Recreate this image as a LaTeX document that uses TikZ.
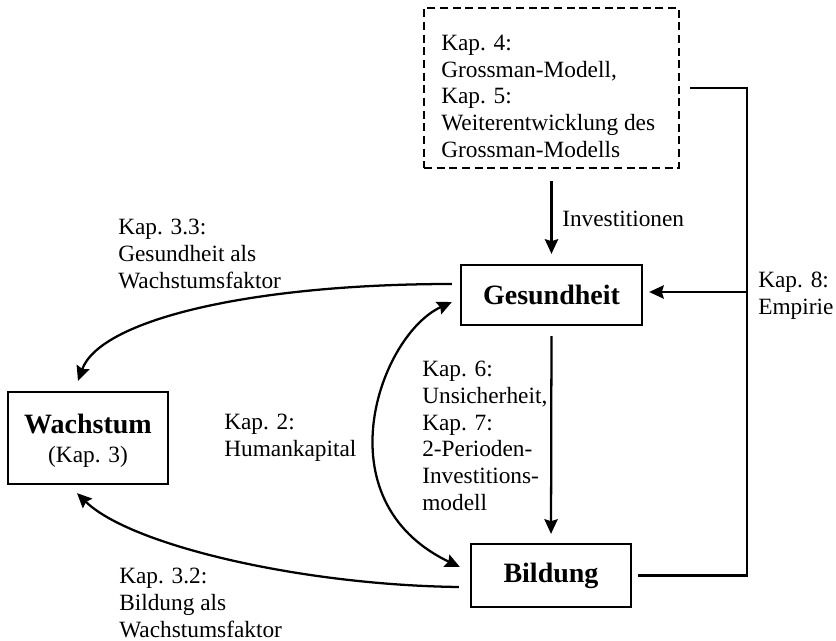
\documentclass[tikz,border=0pt]{standalone}
\usepackage{fontspec}
\setmainfont{Liberation Serif}
\usetikzlibrary{arrows.meta,calc}
\begin{document}
\begin{tikzpicture}[x=0.75pt,y=-0.75pt,
  lw/.style={line width=1.7pt},
  box/.style={draw,lw,inner sep=0pt},
  dbox/.style={draw,line width=1.5pt,dash pattern=on 6pt off 3.5pt,inner sep=0pt},
  txt/.style={anchor=north west,inner sep=0pt,align=left,font=\fontsize{17.5pt}{20pt}\selectfont},
  bigbold/.style={font=\fontsize{21pt}{24pt}\selectfont\bfseries},
  tip/.tip={Stealth[length=11pt,width=10pt,inset=1.5pt]},
  arr/.style={lw,-tip},
  darr/.style={lw,tip-tip},
  con/.style={lw}
]
\useasboundingbox (0,0) rectangle (836,641);

% boxes
\node[dbox,minimum width=191.25pt,minimum height=120pt] (D) at (551.5,88) {};
\node[box,bigbold,minimum width=135.75pt,minimum height=45pt] (G) at (551.5,295) {Gesundheit};
\node[box,bigbold,minimum width=120pt,minimum height=47.25pt] (B) at (551,575.5) {Bildung};
\node[box,minimum width=120pt,minimum height=69pt] (W) at (88,438) {};
\node[align=center,inner sep=0pt,font=\fontsize{17.5pt}{22pt}\selectfont] (Wt) at (88,441) {{\fontsize{21pt}{24pt}\selectfont\bfseries Wachstum}\\(Kap. 3)};

% texts
\node[txt] (t45) at (441,35) {Kap. 4:\\Grossman-Modell,\\Kap. 5:\\Weiterentwicklung des\\Grossman-Modells};
\node[txt] (tinv) at (562,211) {Investitionen};
\node[txt] (t33) at (118,219) {Kap. 3.3:\\Gesundheit als\\Wachstumsfaktor};
\node[txt] (t2) at (224,414) {Kap. 2:\\Humankapital};
\node[txt] (t67) at (422,361) {Kap. 6:\\Unsicherheit,\\Kap. 7:\\2-Perioden-\\Investitions-\\modell};
\node[txt] (t8) at (758,272) {Kap. 8:\\Empirie};
\node[txt] (t32) at (119,568) {Kap. 3.2:\\Bildung als\\Wachstumsfaktor};

% connectors
\draw[arr,shorten <=9pt,shorten >=7.5pt] (D.south) -- (G.north);
\draw[arr,shorten <=7.5pt,shorten >=6.75pt] (G.south) -- (B.north);
\coordinate (vr) at (747,292);
\draw[con] ([xshift=7.5pt]D.east) -| (vr) |- ([xshift=4.5pt]B.east);
\draw[arr,shorten >=4.5pt] (vr) -- (vr -| G.east);

\draw[arr] ($(G.west)+(-8,-11)$) .. controls (250,284) and (100,320) .. ($(W.north)+(-10,-10)$);
\draw[arr] ($(B.west)+(-11,11.5)$) .. controls (300,585) and (130,545) .. ($(W.south)+(-11,8)$);
\draw[darr] ($(G.west)+(-8,7)$) .. controls (380,335) and (320,500) .. ($(B.west)+(-10,-8.5)$);
\end{tikzpicture}
\end{document}
